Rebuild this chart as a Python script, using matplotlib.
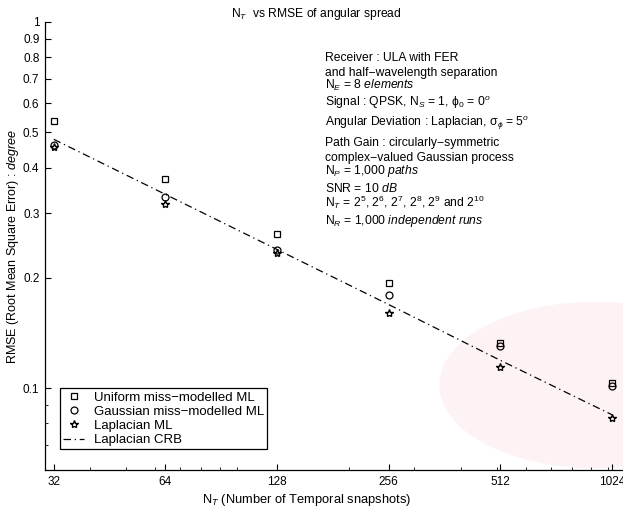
import numpy as np
import matplotlib
matplotlib.use("Agg")
import matplotlib.pyplot as plt
from matplotlib.patches import Ellipse
from matplotlib.ticker import FixedLocator, NullFormatter

plt.rcParams['font.family'] = ['Liberation Sans', 'DejaVu Sans']
plt.rcParams['mathtext.fontset'] = 'custom'
plt.rcParams['mathtext.rm'] = 'Liberation Sans'
plt.rcParams['mathtext.it'] = 'Liberation Sans:italic'
plt.rcParams['mathtext.bf'] = 'Liberation Sans:bold'

# RMSE of the angular spread estimate (degrees) vs number of snapshots
n_snapshots = [32, 64, 128, 256, 512, 1024]
rmse_uniform = [0.536, 0.372, 0.263, 0.193, 0.133, 0.103]
rmse_gaussian = [0.461, 0.333, 0.238, 0.180, 0.130, 0.101]
rmse_laplacian = [0.455, 0.318, 0.234, 0.160, 0.114, 0.083]
crb_laplacian = [0.478, 0.338, 0.239, 0.169, 0.119, 0.0845]

x_ticks = [32, 64, 128, 256, 512, 1024]
y_ticks = [0.1, 0.2, 0.3, 0.4, 0.5, 0.6, 0.7, 0.8, 0.9, 1.0]
y_ticklabels = ['0.1', '0.2', '0.3', '0.4', '0.5', '0.6', '0.7', '0.8', '0.9', '1']

settings = [
    "Receiver : ULA with FER",
    "and half\u2212wavelength separation",
    "N$_E$ = 8 $\\mathit{elements}$",
    "Signal : QPSK, N$_S$ = 1, \u03d5$_0$ = 0$^o$",
    "Angular Deviation : Laplacian, \u03c3$_\u03d5$ = 5$^o$",
    "Path Gain : circularly\u2212symmetric",
    "complex\u2212valued Gaussian process",
    "N$_P$ = 1,000 $\\mathit{paths}$",
    "SNR = 10 $\\mathit{dB}$",
    "N$_T$ = 2$^5$, 2$^6$, 2$^7$, 2$^8$, 2$^9$ and 2$^{10}$",
    "N$_R$ = 1,000 $\\mathit{independent\\ runs}$",
]
settings_y = [61, 76, 89, 106, 126, 146, 161, 174, 192, 207, 224]

W, H = 623, 509
fig = plt.figure(figsize=(W / 100, H / 100), dpi=100)

# faint background emblem
fig.patches.append(Ellipse((595 / W, 1 - 385 / H), 310 / W, 165 / H,
                           transform=fig.transFigure, color='#fdf2f4', zorder=-5))

ax = fig.add_axes([45 / W, 39 / H, 578 / W, 448 / H])
ax.patch.set_alpha(0)
ax.set_xscale('log')
ax.set_yscale('log')

ax.plot(n_snapshots, rmse_uniform, 's', ms=4.5, mfc='none', mec='k', mew=0.9,
        label='Uniform miss\u2212modelled ML')
ax.plot(n_snapshots, rmse_gaussian, 'o', ms=5, mfc='none', mec='k', mew=0.9,
        label='Gaussian miss\u2212modelled ML')
ax.plot(n_snapshots, rmse_laplacian, '*', ms=6, mfc='none', mec='k', mew=1.0,
        label='Laplacian ML')
ax.plot(n_snapshots, crb_laplacian, color='k', lw=0.9, ls=(0, (6, 3, 1, 3)),
        label='Laplacian CRB')

ax.set_xlim(30.3, 1096)
ax.set_ylim(0.0597, 1.0)

ax.xaxis.set_major_locator(FixedLocator(x_ticks))
ax.set_xticklabels([str(t) for t in x_ticks])
ax.xaxis.set_minor_locator(FixedLocator([40, 50, 60, 70, 80, 90, 100, 200, 300,
                                         400, 500, 600, 700, 800, 900, 1000]))
ax.xaxis.set_minor_formatter(NullFormatter())
ax.yaxis.set_major_locator(FixedLocator(y_ticks))
ax.set_yticklabels(y_ticklabels)
ax.yaxis.set_minor_locator(FixedLocator([0.07, 0.08, 0.09]))
ax.yaxis.set_minor_formatter(NullFormatter())

ax.tick_params(which='major', direction='in', length=4, width=0.8,
               labelsize=8.5, pad=4)
ax.tick_params(which='minor', direction='in', length=2, width=0.6)
for s in ['top', 'right']:
    ax.spines[s].set_visible(False)
for s in ['left', 'bottom']:
    ax.spines[s].set_linewidth(0.9)

leg = ax.legend(loc='upper left', bbox_to_anchor=(60 / W, 1 - 388 / H),
                bbox_transform=fig.transFigure, fontsize=9.5, frameon=True,
                fancybox=False, edgecolor='k', framealpha=1, borderpad=0.25,
                handlelength=1.6, handletextpad=0.7, labelspacing=0.15,
                borderaxespad=0)
leg.get_frame().set_linewidth(0.9)

fig.text(316 / W, 1 - 17 / H, "N$_T$  vs RMSE of angular spread",
         ha='center', va='baseline', fontsize=8.7)
fig.text(307 / W, 1 - 503 / H, "N$_T$ (Number of Temporal snapshots)",
         ha='center', va='baseline', fontsize=9.3)
fig.text(13 / W, 1 - 247 / H, "RMSE (Root Mean Square Error) : $\\mathit{degree}$",
         ha='center', va='center', rotation=90, fontsize=9)

for line, yp in zip(settings, settings_y):
    fig.text(325 / W, 1 - yp / H, line, ha='left', va='baseline', fontsize=8.7)

fig.savefig('out.png', dpi=100)
